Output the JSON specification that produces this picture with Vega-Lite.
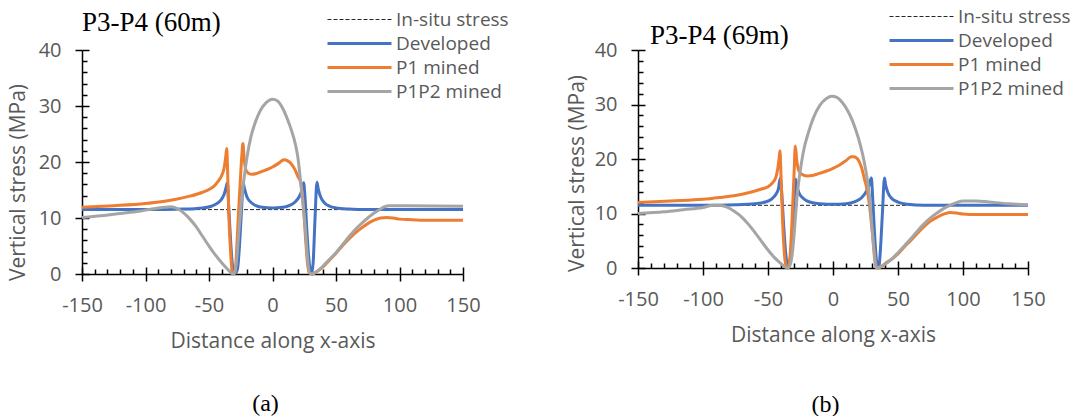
{
  "$schema": "https://vega.github.io/schema/vega-lite/v6.json",
  "background": "white",
  "padding": {"left": 6, "top": 7, "right": 0, "bottom": 0},
  "bounds": "flush",
  "spacing": 175,
  "resolve": {"scale": {"color": "independent"}, "legend": {"color": "independent"}},
  "config": {
    "view": {"stroke": null},
    "axis": {"grid": false, "domainColor": "black", "tickColor": "black", "labelFont": "Open Sans", "titleFont": "Open Sans", "labelColor": "#595959", "titleColor": "#595959", "titleFontWeight": "normal", "labelFontSize": 20, "titleFontSize": 21, "domainWidth": 1.5, "tickWidth": 1.5, "labelOverlap": false, "labelFlush": false}
  },
  "datasets": {
    "insitu": [{"s": "In-situ stress", "x": -150, "y": 11.5}, {"s": "In-situ stress", "x": 150, "y": 11.5}],
    "p60": [
      {"s":"Developed","x":-150,"y":11.5},{"s":"Developed","x":-100,"y":11.5},{"s":"Developed","x":-70,"y":11.6},{"s":"Developed","x":-55,"y":11.8},{"s":"Developed","x":-48,"y":12.1},{"s":"Developed","x":-43,"y":12.7},{"s":"Developed","x":-40,"y":13.4},{"s":"Developed","x":-38,"y":14.3},{"s":"Developed","x":-36.5,"y":15.5},{"s":"Developed","x":-35.5,"y":16.3},{"s":"Developed","x":-34.5,"y":12},{"s":"Developed","x":-33,"y":6},{"s":"Developed","x":-31.5,"y":1.5},{"s":"Developed","x":-30,"y":0.2},{"s":"Developed","x":-29,"y":0.2},{"s":"Developed","x":-27.5,"y":1},{"s":"Developed","x":-26,"y":5},{"s":"Developed","x":-24.5,"y":11},{"s":"Developed","x":-23,"y":16.1},{"s":"Developed","x":-22,"y":15.2},{"s":"Developed","x":-20,"y":13.7},{"s":"Developed","x":-17,"y":12.8},{"s":"Developed","x":-13,"y":12.2},{"s":"Developed","x":-8,"y":11.9},{"s":"Developed","x":0,"y":11.8},{"s":"Developed","x":8,"y":11.9},{"s":"Developed","x":13,"y":12.2},{"s":"Developed","x":18,"y":12.9},{"s":"Developed","x":21,"y":13.8},{"s":"Developed","x":23,"y":14.9},{"s":"Developed","x":24.5,"y":16.3},{"s":"Developed","x":25.5,"y":14},{"s":"Developed","x":27,"y":8},{"s":"Developed","x":28.5,"y":3},{"s":"Developed","x":30,"y":0.5},{"s":"Developed","x":31,"y":0.2},{"s":"Developed","x":32,"y":2},{"s":"Developed","x":33.5,"y":10},{"s":"Developed","x":35,"y":16.4},{"s":"Developed","x":36,"y":15.2},{"s":"Developed","x":38,"y":13.7},{"s":"Developed","x":41,"y":12.7},{"s":"Developed","x":45,"y":12.1},{"s":"Developed","x":50,"y":11.8},{"s":"Developed","x":60,"y":11.6},{"s":"Developed","x":75,"y":11.5},{"s":"Developed","x":150,"y":11.5},
      {"s":"P1 mined","x":-150,"y":11.9},{"s":"P1 mined","x":-125,"y":12.2},{"s":"P1 mined","x":-100,"y":12.6},{"s":"P1 mined","x":-85,"y":13.0},{"s":"P1 mined","x":-75,"y":13.4},{"s":"P1 mined","x":-65,"y":13.9},{"s":"P1 mined","x":-55,"y":14.6},{"s":"P1 mined","x":-50,"y":15.1},{"s":"P1 mined","x":-46,"y":15.7},{"s":"P1 mined","x":-43,"y":16.5},{"s":"P1 mined","x":-40,"y":17.6},{"s":"P1 mined","x":-38,"y":19.0},{"s":"P1 mined","x":-36.8,"y":21},{"s":"P1 mined","x":-36,"y":22.4},{"s":"P1 mined","x":-35.3,"y":18},{"s":"P1 mined","x":-34.3,"y":10},{"s":"P1 mined","x":-33,"y":4},{"s":"P1 mined","x":-31.8,"y":0.5},{"s":"P1 mined","x":-30.5,"y":0},{"s":"P1 mined","x":-29.5,"y":0.3},{"s":"P1 mined","x":-28.3,"y":4},{"s":"P1 mined","x":-27,"y":10},{"s":"P1 mined","x":-25.5,"y":16},{"s":"P1 mined","x":-24.2,"y":21},{"s":"P1 mined","x":-23.3,"y":23.3},{"s":"P1 mined","x":-22.3,"y":20.5},{"s":"P1 mined","x":-21,"y":18.6},{"s":"P1 mined","x":-19,"y":18},{"s":"P1 mined","x":-16,"y":17.8},{"s":"P1 mined","x":-12,"y":18.0},{"s":"P1 mined","x":-6,"y":18.5},{"s":"P1 mined","x":0,"y":19.1},{"s":"P1 mined","x":5,"y":19.8},{"s":"P1 mined","x":9,"y":20.4},{"s":"P1 mined","x":12,"y":20.2},{"s":"P1 mined","x":15,"y":19.6},{"s":"P1 mined","x":18,"y":18.5},{"s":"P1 mined","x":20,"y":17.4},{"s":"P1 mined","x":22,"y":16.5},{"s":"P1 mined","x":24,"y":13},{"s":"P1 mined","x":26,"y":6.5},{"s":"P1 mined","x":27.5,"y":2},{"s":"P1 mined","x":29,"y":0.2},{"s":"P1 mined","x":31,"y":0},{"s":"P1 mined","x":34,"y":0.3},{"s":"P1 mined","x":40,"y":1.3},{"s":"P1 mined","x":45,"y":2.5},{"s":"P1 mined","x":50,"y":3.7},{"s":"P1 mined","x":55,"y":5.0},{"s":"P1 mined","x":60,"y":6.2},{"s":"P1 mined","x":65,"y":7.3},{"s":"P1 mined","x":70,"y":8.2},{"s":"P1 mined","x":75,"y":9.0},{"s":"P1 mined","x":80,"y":9.6},{"s":"P1 mined","x":85,"y":10.0},{"s":"P1 mined","x":90,"y":10.1},{"s":"P1 mined","x":95,"y":10.0},{"s":"P1 mined","x":100,"y":9.8},{"s":"P1 mined","x":110,"y":9.7},{"s":"P1 mined","x":120,"y":9.6},{"s":"P1 mined","x":150,"y":9.6},
      {"s":"P1P2 mined","x":-150,"y":10.1},{"s":"P1P2 mined","x":-135,"y":10.4},{"s":"P1P2 mined","x":-120,"y":10.8},{"s":"P1P2 mined","x":-105,"y":11.2},{"s":"P1P2 mined","x":-95,"y":11.6},{"s":"P1P2 mined","x":-85,"y":11.9},{"s":"P1P2 mined","x":-80,"y":12.0},{"s":"P1P2 mined","x":-75,"y":11.7},{"s":"P1P2 mined","x":-70,"y":10.9},{"s":"P1P2 mined","x":-65,"y":9.8},{"s":"P1P2 mined","x":-60,"y":8.4},{"s":"P1P2 mined","x":-55,"y":6.7},{"s":"P1P2 mined","x":-50,"y":5.0},{"s":"P1P2 mined","x":-45,"y":3.4},{"s":"P1P2 mined","x":-40,"y":2.0},{"s":"P1P2 mined","x":-36,"y":1.0},{"s":"P1P2 mined","x":-33,"y":0.3},{"s":"P1P2 mined","x":-31,"y":0},{"s":"P1P2 mined","x":-29.5,"y":0.5},{"s":"P1P2 mined","x":-28,"y":3},{"s":"P1P2 mined","x":-26.5,"y":7.5},{"s":"P1P2 mined","x":-25,"y":11.5},{"s":"P1P2 mined","x":-23.5,"y":15},{"s":"P1P2 mined","x":-22,"y":17.8},{"s":"P1P2 mined","x":-20,"y":21},{"s":"P1P2 mined","x":-17,"y":24.5},{"s":"P1P2 mined","x":-14,"y":26.8},{"s":"P1P2 mined","x":-10,"y":29},{"s":"P1P2 mined","x":-5,"y":30.6},{"s":"P1P2 mined","x":0,"y":31.2},{"s":"P1P2 mined","x":4,"y":30.9},{"s":"P1P2 mined","x":8,"y":29.6},{"s":"P1P2 mined","x":12,"y":27.5},{"s":"P1P2 mined","x":15,"y":25.6},{"s":"P1P2 mined","x":18,"y":23.2},{"s":"P1P2 mined","x":20,"y":20.8},{"s":"P1P2 mined","x":22,"y":16.8},{"s":"P1P2 mined","x":24,"y":12.5},{"s":"P1P2 mined","x":26,"y":7.8},{"s":"P1P2 mined","x":27.5,"y":3},{"s":"P1P2 mined","x":29,"y":0.3},{"s":"P1P2 mined","x":31,"y":0},{"s":"P1P2 mined","x":34,"y":0.3},{"s":"P1P2 mined","x":38,"y":1.0},{"s":"P1P2 mined","x":43,"y":2.2},{"s":"P1P2 mined","x":50,"y":3.8},{"s":"P1P2 mined","x":55,"y":5.2},{"s":"P1P2 mined","x":60,"y":6.6},{"s":"P1P2 mined","x":65,"y":7.9},{"s":"P1P2 mined","x":70,"y":9.0},{"s":"P1P2 mined","x":75,"y":10.0},{"s":"P1P2 mined","x":80,"y":10.9},{"s":"P1P2 mined","x":85,"y":11.6},{"s":"P1P2 mined","x":88,"y":12.0},{"s":"P1P2 mined","x":92,"y":12.2},{"s":"P1P2 mined","x":100,"y":12.2},{"s":"P1P2 mined","x":150,"y":12.1}
    ],
    "p69": [
      {"s":"Developed","x":-150,"y":11.5},{"s":"Developed","x":-100,"y":11.5},{"s":"Developed","x":-75,"y":11.6},{"s":"Developed","x":-60,"y":11.8},{"s":"Developed","x":-52,"y":12.1},{"s":"Developed","x":-47,"y":12.7},{"s":"Developed","x":-44,"y":13.5},{"s":"Developed","x":-42,"y":14.5},{"s":"Developed","x":-40.5,"y":16.5},{"s":"Developed","x":-39.5,"y":14},{"s":"Developed","x":-38,"y":8},{"s":"Developed","x":-36.5,"y":3},{"s":"Developed","x":-35,"y":0.5},{"s":"Developed","x":-34,"y":0.2},{"s":"Developed","x":-33,"y":1.5},{"s":"Developed","x":-31.5,"y":6},{"s":"Developed","x":-30,"y":12},{"s":"Developed","x":-28.8,"y":16.3},{"s":"Developed","x":-27.8,"y":15},{"s":"Developed","x":-26,"y":13.7},{"s":"Developed","x":-23,"y":12.8},{"s":"Developed","x":-18,"y":12.1},{"s":"Developed","x":-10,"y":11.8},{"s":"Developed","x":0,"y":11.7},{"s":"Developed","x":10,"y":11.8},{"s":"Developed","x":17,"y":12.2},{"s":"Developed","x":22,"y":12.9},{"s":"Developed","x":25,"y":13.8},{"s":"Developed","x":27.5,"y":15},{"s":"Developed","x":29.5,"y":16.5},{"s":"Developed","x":30.5,"y":13},{"s":"Developed","x":31.8,"y":7},{"s":"Developed","x":33,"y":2.5},{"s":"Developed","x":34.3,"y":0.3},{"s":"Developed","x":35.3,"y":0.3},{"s":"Developed","x":36.5,"y":3.5},{"s":"Developed","x":38,"y":10},{"s":"Developed","x":39.6,"y":16.5},{"s":"Developed","x":40.5,"y":15.2},{"s":"Developed","x":42.5,"y":13.7},{"s":"Developed","x":45,"y":12.8},{"s":"Developed","x":50,"y":12.1},{"s":"Developed","x":57,"y":11.7},{"s":"Developed","x":70,"y":11.5},{"s":"Developed","x":150,"y":11.5},
      {"s":"P1 mined","x":-150,"y":12.0},{"s":"P1 mined","x":-125,"y":12.3},{"s":"P1 mined","x":-100,"y":12.6},{"s":"P1 mined","x":-85,"y":13.0},{"s":"P1 mined","x":-75,"y":13.3},{"s":"P1 mined","x":-65,"y":13.8},{"s":"P1 mined","x":-55,"y":14.5},{"s":"P1 mined","x":-50,"y":14.9},{"s":"P1 mined","x":-47,"y":15.5},{"s":"P1 mined","x":-44,"y":16.6},{"s":"P1 mined","x":-42.5,"y":18.2},{"s":"P1 mined","x":-41.5,"y":20},{"s":"P1 mined","x":-40.8,"y":21.5},{"s":"P1 mined","x":-40,"y":17},{"s":"P1 mined","x":-39,"y":10},{"s":"P1 mined","x":-37.8,"y":4},{"s":"P1 mined","x":-36.5,"y":0.8},{"s":"P1 mined","x":-35,"y":0},{"s":"P1 mined","x":-33.8,"y":0.5},{"s":"P1 mined","x":-32.5,"y":4},{"s":"P1 mined","x":-31.3,"y":10},{"s":"P1 mined","x":-30,"y":17},{"s":"P1 mined","x":-29,"y":22.4},{"s":"P1 mined","x":-28,"y":20},{"s":"P1 mined","x":-26.5,"y":18},{"s":"P1 mined","x":-24,"y":17.2},{"s":"P1 mined","x":-20,"y":16.9},{"s":"P1 mined","x":-15,"y":17.0},{"s":"P1 mined","x":-10,"y":17.4},{"s":"P1 mined","x":-5,"y":17.8},{"s":"P1 mined","x":0,"y":18.3},{"s":"P1 mined","x":5,"y":18.9},{"s":"P1 mined","x":10,"y":19.7},{"s":"P1 mined","x":14,"y":20.4},{"s":"P1 mined","x":16,"y":20.4},{"s":"P1 mined","x":20,"y":19.6},{"s":"P1 mined","x":22,"y":18.4},{"s":"P1 mined","x":24,"y":16.5},{"s":"P1 mined","x":26,"y":14.6},{"s":"P1 mined","x":27.5,"y":12.5},{"s":"P1 mined","x":29,"y":9.5},{"s":"P1 mined","x":30.5,"y":6},{"s":"P1 mined","x":32,"y":2.5},{"s":"P1 mined","x":33.3,"y":0.3},{"s":"P1 mined","x":35,"y":0},{"s":"P1 mined","x":37,"y":0.2},{"s":"P1 mined","x":40,"y":0.8},{"s":"P1 mined","x":45,"y":1.6},{"s":"P1 mined","x":50,"y":2.6},{"s":"P1 mined","x":55,"y":3.9},{"s":"P1 mined","x":60,"y":5.1},{"s":"P1 mined","x":65,"y":6.4},{"s":"P1 mined","x":70,"y":7.6},{"s":"P1 mined","x":75,"y":8.6},{"s":"P1 mined","x":80,"y":9.3},{"s":"P1 mined","x":85,"y":9.9},{"s":"P1 mined","x":90,"y":10.2},{"s":"P1 mined","x":95,"y":10.1},{"s":"P1 mined","x":100,"y":9.9},{"s":"P1 mined","x":110,"y":9.8},{"s":"P1 mined","x":150,"y":9.8},
      {"s":"P1P2 mined","x":-150,"y":10.0},{"s":"P1P2 mined","x":-130,"y":10.3},{"s":"P1P2 mined","x":-115,"y":10.7},{"s":"P1P2 mined","x":-100,"y":11.1},{"s":"P1P2 mined","x":-92,"y":11.5},{"s":"P1P2 mined","x":-87,"y":11.5},{"s":"P1P2 mined","x":-82,"y":11.2},{"s":"P1P2 mined","x":-76,"y":10.4},{"s":"P1P2 mined","x":-70,"y":9.3},{"s":"P1P2 mined","x":-65,"y":8.0},{"s":"P1P2 mined","x":-60,"y":6.5},{"s":"P1P2 mined","x":-55,"y":4.9},{"s":"P1P2 mined","x":-50,"y":3.3},{"s":"P1P2 mined","x":-45,"y":1.9},{"s":"P1P2 mined","x":-40,"y":0.8},{"s":"P1P2 mined","x":-37,"y":0.2},{"s":"P1P2 mined","x":-35,"y":0},{"s":"P1P2 mined","x":-33.5,"y":0.3},{"s":"P1P2 mined","x":-32,"y":1.5},{"s":"P1P2 mined","x":-30.5,"y":4.5},{"s":"P1P2 mined","x":-29,"y":9},{"s":"P1P2 mined","x":-27.5,"y":13.5},{"s":"P1P2 mined","x":-26,"y":16.5},{"s":"P1P2 mined","x":-24,"y":19.7},{"s":"P1P2 mined","x":-22,"y":22.2},{"s":"P1P2 mined","x":-19,"y":24.8},{"s":"P1P2 mined","x":-15,"y":27.6},{"s":"P1P2 mined","x":-10,"y":29.9},{"s":"P1P2 mined","x":-5,"y":31.1},{"s":"P1P2 mined","x":-1,"y":31.5},{"s":"P1P2 mined","x":3,"y":31.3},{"s":"P1P2 mined","x":7,"y":30.4},{"s":"P1P2 mined","x":11,"y":29},{"s":"P1P2 mined","x":15,"y":27},{"s":"P1P2 mined","x":18,"y":25},{"s":"P1P2 mined","x":21,"y":22.6},{"s":"P1P2 mined","x":24,"y":19.5},{"s":"P1P2 mined","x":26.5,"y":16},{"s":"P1P2 mined","x":28.3,"y":12.6},{"s":"P1P2 mined","x":29.8,"y":8},{"s":"P1P2 mined","x":31.2,"y":3.7},{"s":"P1P2 mined","x":32.3,"y":1},{"s":"P1P2 mined","x":33.3,"y":0},{"s":"P1P2 mined","x":35,"y":0.1},{"s":"P1P2 mined","x":40,"y":0.7},{"s":"P1P2 mined","x":45,"y":1.6},{"s":"P1P2 mined","x":50,"y":2.8},{"s":"P1P2 mined","x":55,"y":4.1},{"s":"P1P2 mined","x":60,"y":5.4},{"s":"P1P2 mined","x":65,"y":6.8},{"s":"P1P2 mined","x":70,"y":8.1},{"s":"P1P2 mined","x":75,"y":9.2},{"s":"P1P2 mined","x":80,"y":10.1},{"s":"P1P2 mined","x":85,"y":10.9},{"s":"P1P2 mined","x":90,"y":11.5},{"s":"P1P2 mined","x":95,"y":12.0},{"s":"P1P2 mined","x":100,"y":12.3},{"s":"P1P2 mined","x":110,"y":12.3},{"s":"P1P2 mined","x":120,"y":12.1},{"s":"P1P2 mined","x":135,"y":11.8},{"s":"P1P2 mined","x":150,"y":11.6}
    ]
  },
  "hconcat": [
    {
      "width": 381,
      "height": 224,
      "title": {"text": "P3-P4 (60m)", "anchor": "start", "frame": "group", "font": "Liberation Serif", "fontSize": 27, "fontWeight": "normal", "color": "black", "baseline": "alphabetic", "offset": -15, "dy": 33},
      "resolve": {"axis": {"x": "independent", "y": "independent"}},
      "layer": [
        {
          "data": {"name": "insitu"},
          "mark": {"type": "line", "strokeWidth": 1, "strokeDash": [4, 2]},
          "encoding": {
            "x": {"field": "x", "type": "quantitative", "scale": {"domain": [-150, 150], "nice": false, "zero": false}, "axis": {"orient": "bottom", "values": [-150, -100, -50, 0, 50, 100, 150], "labelExpr": "'' + datum.value", "tickSize": 7, "labelPadding": 14, "title": "Distance along x-axis", "titleY": 67, "titleBaseline": "middle"}},
            "y": {"field": "y", "type": "quantitative", "scale": {"domain": [0, 40], "nice": false}, "axis": {"orient": "left", "values": [0, 10, 20, 30, 40], "tickSize": 7, "labelPadding": 14, "title": "Vertical stress (MPa)", "titleX": -64, "titleY": 132, "titleAngle": -90, "titleAlign": "center", "titleBaseline": "middle"}},
            "color": {"field": "s", "type": "nominal", "scale": {"domain": ["In-situ stress", "Developed", "P1 mined", "P1P2 mined"], "range": ["#262626", "#4472C4", "#ED7D31", "#A5A5A5"]},
              "legend": {"title": null, "orient": "none", "legendX": 268, "legendY": -40, "symbolType": "stroke", "symbolSize": 4096, "symbolStrokeWidth": 3, "labelFont": "Open Sans", "labelFontSize": 19, "labelColor": "#595959", "labelOffset": 27, "rowPadding": 4, "labelLimit": 300,
                "encode": {"symbols": {"update": {"strokeDash": {"signal": "datum.value === 'In-situ stress' ? [4, 2] : [1, 0]"}, "strokeWidth": {"signal": "datum.value === 'In-situ stress' ? 1 : 3"}}}}}}
          }
        },
        {
          "data": {"name": "p60"},
          "mark": {"type": "line", "strokeWidth": 3, "interpolate": "monotone"},
          "encoding": {
            "x": {"field": "x", "type": "quantitative", "axis": {"orient": "bottom", "values": [-150, -100, -50, 0, 50, 100, 150], "tickSize": -7, "labels": false, "domain": false, "title": null}},
            "y": {"field": "y", "type": "quantitative", "axis": {"orient": "left", "values": [0, 10, 20, 30, 40], "tickSize": -7, "labels": false, "domain": false, "title": null}},
            "color": {"field": "s", "type": "nominal"}
          }
        },
        {
          "data": {"name": "insitu"},
          "mark": {"type": "point", "opacity": 0},
          "encoding": {
            "x": {"field": "x", "type": "quantitative", "axis": {"orient": "bottom", "values": [-140, -130, -120, -110, -90, -80, -70, -60, -40, -30, -20, -10, 10, 20, 30, 40, 60, 70, 80, 90, 110, 120, 130, 140], "tickSize": -5, "labels": false, "domain": false, "title": "(a)", "titleFont": "Liberation Serif", "titleFontSize": 24, "titleColor": "black", "titleY": 129, "titleX": 183, "titleBaseline": "middle"}},
            "y": {"field": "y", "type": "quantitative", "axis": {"orient": "left", "values": [2, 4, 6, 8, 12, 14, 16, 18, 22, 24, 26, 28, 32, 34, 36, 38], "tickSize": -5, "labels": false, "domain": false, "title": null}}
          }
        }
      ]
    },
    {
      "width": 390,
      "height": 218,
      "title": {"text": "P3-P4 (69m)", "anchor": "start", "frame": "group", "font": "Liberation Serif", "fontSize": 27, "fontWeight": "normal", "color": "black", "baseline": "alphabetic", "offset": -32, "dx": 12, "dy": 32},
      "resolve": {"axis": {"x": "independent", "y": "independent"}},
      "layer": [
        {
          "data": {"name": "insitu"},
          "mark": {"type": "line", "strokeWidth": 1, "strokeDash": [4, 2]},
          "encoding": {
            "x": {"field": "x", "type": "quantitative", "scale": {"domain": [-150, 150], "nice": false, "zero": false}, "axis": {"orient": "bottom", "values": [-150, -100, -50, 0, 50, 100, 150], "labelExpr": "'' + datum.value", "tickSize": 7, "labelPadding": 14, "title": "Distance along x-axis", "titleY": 67, "titleBaseline": "middle"}},
            "y": {"field": "y", "type": "quantitative", "scale": {"domain": [0, 40], "nice": false}, "axis": {"orient": "left", "values": [0, 10, 20, 30, 40], "tickSize": 7, "labelPadding": 14, "title": "Vertical stress (MPa)", "titleX": -61, "titleY": 123, "titleAngle": -90, "titleAlign": "center", "titleBaseline": "middle"}},
            "color": {"field": "s", "type": "nominal", "scale": {"domain": ["In-situ stress", "Developed", "P1 mined", "P1P2 mined"], "range": ["#262626", "#4472C4", "#ED7D31", "#A5A5A5"]},
              "legend": {"title": null, "orient": "none", "legendX": 274, "legendY": -43, "symbolType": "stroke", "symbolSize": 4096, "symbolStrokeWidth": 3, "labelFont": "Open Sans", "labelFontSize": 19, "labelColor": "#595959", "labelOffset": 27, "rowPadding": 4, "labelLimit": 300,
                "encode": {"symbols": {"update": {"strokeDash": {"signal": "datum.value === 'In-situ stress' ? [4, 2] : [1, 0]"}, "strokeWidth": {"signal": "datum.value === 'In-situ stress' ? 1 : 3"}}}}}}
          }
        },
        {
          "data": {"name": "p69"},
          "mark": {"type": "line", "strokeWidth": 3, "interpolate": "monotone"},
          "encoding": {
            "x": {"field": "x", "type": "quantitative", "axis": {"orient": "bottom", "values": [-150, -100, -50, 0, 50, 100, 150], "tickSize": -7, "labels": false, "domain": false, "title": null}},
            "y": {"field": "y", "type": "quantitative", "axis": {"orient": "left", "values": [0, 10, 20, 30, 40], "tickSize": -7, "labels": false, "domain": false, "title": null}},
            "color": {"field": "s", "type": "nominal"}
          }
        },
        {
          "data": {"name": "insitu"},
          "mark": {"type": "point", "opacity": 0},
          "encoding": {
            "x": {"field": "x", "type": "quantitative", "axis": {"orient": "bottom", "values": [-140, -130, -120, -110, -90, -80, -70, -60, -40, -30, -20, -10, 10, 20, 30, 40, 60, 70, 80, 90, 110, 120, 130, 140], "tickSize": -5, "labels": false, "domain": false, "title": "(b)", "titleFont": "Liberation Serif", "titleFontSize": 24, "titleColor": "black", "titleY": 136, "titleX": 187, "titleBaseline": "middle"}},
            "y": {"field": "y", "type": "quantitative", "axis": {"orient": "left", "values": [2, 4, 6, 8, 12, 14, 16, 18, 22, 24, 26, 28, 32, 34, 36, 38], "tickSize": -5, "labels": false, "domain": false, "title": null}}
          }
        }
      ]
    }
  ]
}
